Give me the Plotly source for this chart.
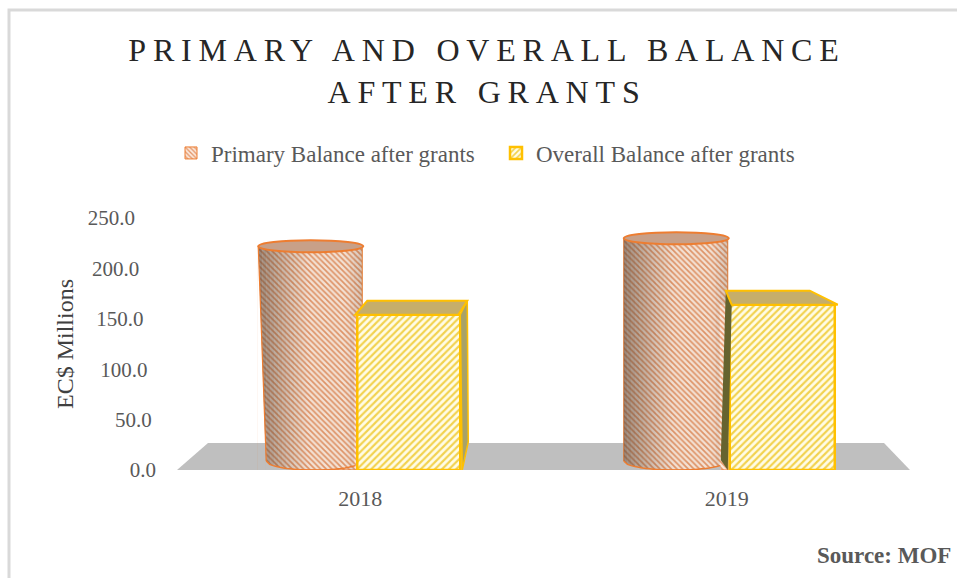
import plotly.graph_objects as go

years = ["2018", "2019"]
primary_balance = [222.0, 230.0]
overall_balance = [154.0, 164.0]
y_ticks = [0, 50, 100, 150, 200, 250]
y_tick_labels = ["0.0", "50.0", "100.0", "150.0", "200.0", "250.0"]

# plot-area scale: one category step and one axis unit in pixels
STEP = 366.5
UNIT = 252 / 250
ORANGE = "#ed7d31"
GOLD = "#ffc000"
FLOOR = "#bfbfbf"
TEXT = "#595959"
FLOOR_DEPTH = 27


def ux(px):
    return px / STEP


def uy(px):
    return px / UNIT


def poly(points):
    return "M " + " L ".join(f"{x:.4f},{y:.3f}" for x, y in points) + " Z"


def solid(points, color, layer="above"):
    return dict(type="path", xref="x", yref="y", layer=layer, line_width=0,
                fillcolor=color, path=poly(points))


fig = go.Figure()

# cylinder bodies: per-bar offset and width in category units
fig.add_trace(go.Bar(
    x=years, y=primary_balance, name="Primary Balance after grants",
    offset=[ux(-102), ux(-103)], width=[ux(104), ux(104)],
    marker=dict(
        color="#fbe3d2", line=dict(color=ORANGE, width=1),
        pattern=dict(shape="\\", fgcolor="#e5976a", bgcolor="#fbe9dc",
                     size=4, solidity=0.42, fillmode="replace"),
    ),
    cliponaxis=False,
))

# front faces of the boxes
fig.add_trace(go.Bar(
    x=years, y=overall_balance, name="Overall Balance after grants",
    offset=[ux(-3), ux(3)], width=[ux(103), ux(105)],
    marker=dict(
        color="#fff6c0", line=dict(color=GOLD, width=2.5),
        pattern=dict(shape="/", fgcolor="#f2d24e", bgcolor="#fffce6",
                     size=5, solidity=0.42, fillmode="replace"),
    ),
    cliponaxis=False,
))

shapes = []

# grey floor under the columns
shapes.append(solid([(-0.5, 0), (-0.5 + ux(31), uy(FLOOR_DEPTH)),
                     (1.5 - ux(26), uy(FLOOR_DEPTH)), (1.5, 0)], FLOOR, layer="below"))

# per-category cylinder geometry, as pixel offsets from the category centre
cyl_left = [-102, -103]
cyl_right = [2, 1]
box_left = [-3, -5]
foot_inset = [8, 0]
for i, (p, b) in enumerate(zip(primary_balance, overall_balance)):
    l, r = cyl_left[i], cyl_right[i]
    n = 26
    w = (r - l) / n
    # horizontal shading across the cylinder
    for k in range(n):
        t = (k + 0.5) / n
        if t < 0.5:
            alpha = 0.55 * (1 - t / 0.5) ** 1.2
        elif t > 0.85:
            alpha = 0.18 * (t - 0.85) / 0.15
        else:
            alpha = 0.0
        alpha += 0.05
        x0 = l + k * w
        x1 = x0 + w
        y0 = b if x1 > box_left[i] else 0
        shapes.append(solid([(i + ux(x0), y0), (i + ux(x0), p),
                             (i + ux(x1), p), (i + ux(x1), y0)],
                            f"rgba(90,70,55,{alpha:.3f})"))

    # the column narrows slightly towards its foot
    inset = foot_inset[i]
    if inset:
        at_floor = inset * (1 - FLOOR_DEPTH * 1.0 / (p * UNIT))
        shapes.append(solid([(i + ux(l - 1), p), (i + ux(l), p),
                             (i + ux(l + at_floor), uy(FLOOR_DEPTH)),
                             (i + ux(l - 1), uy(FLOOR_DEPTH))], "white"))
        shapes.append(solid([(i + ux(l - 1), uy(FLOOR_DEPTH)),
                             (i + ux(l + at_floor), uy(FLOOR_DEPTH)),
                             (i + ux(l + inset), 0), (i + ux(l - 1), 0)], FLOOR))
        shapes.append(dict(type="path", xref="x", yref="y", layer="above",
                           line=dict(color=ORANGE, width=1.2),
                           path=f"M {i + ux(l):.4f},{p} L {i + ux(l + inset):.4f},{uy(9):.3f}"))

    # rounded foot of the cylinder: floor-coloured corner plus orange rim
    foot_l = l + inset
    c = (foot_l + r) / 2
    a = (r - foot_l) / 2
    foot = 9
    arc = []
    for k in range(0, 15):
        s = -1 + k / 14
        arc.append((i + ux(c + a * s), uy(foot * (1 - (1 - s * s) ** 0.5))))
    shapes.append(solid([(i + ux(foot_l - 1), 0), (i + ux(foot_l - 1), uy(foot))]
                        + arc + [(i + ux(c), 0)], FLOOR))
    stop = min(r, box_left[i] - 1)
    right = []
    for k in range(0, 15):
        s = k / 14
        xp = c + a * s
        if xp <= stop:
            right.append((i + ux(xp), uy(foot * (1 - (1 - s * s) ** 0.5))))
    rim = arc + right
    if i == 1:
        shapes.append(solid([(i + ux(c), 0)] + right + [(i + ux(stop), 0)], FLOOR))
    shapes.append(dict(
        type="path", xref="x", yref="y", layer="above",
        line=dict(color=ORANGE, width=1.5),
        path="M " + " L ".join(f"{x:.4f},{y:.3f}" for x, y in rim),
    ))

    # elliptical lid of the cylinder
    shapes.append(dict(
        type="circle", xref="x", yref="y", layer="above",
        x0=i + ux(l), x1=i + ux(r + 1), y0=p - uy(6), y1=p + uy(6),
        fillcolor="#c8a088", line=dict(color=ORANGE, width=2),
    ))

# box top and side faces
b0, b1 = overall_balance
shapes += [
    dict(type="path", xref="x", yref="y", layer="above", fillcolor="#a8a268",
         line=dict(color=GOLD, width=1.5),
         path=poly([(ux(100), b0), (ux(107), b0 + uy(14)), (ux(108), uy(28)), (ux(102), 0)])),
    dict(type="path", xref="x", yref="y", layer="above", fillcolor="#c6ae6a",
         line=dict(color=GOLD, width=2),
         path=poly([(ux(-5), b0), (ux(7), b0 + uy(14)), (ux(107), b0 + uy(14)), (ux(98), b0)])),
    solid([(1 + ux(-1), b1 + uy(14)), (1 + ux(5), b1), (1 + ux(1), 0), (1 + ux(-6), uy(10))],
          "#66632f"),
    dict(type="path", xref="x", yref="y", layer="above", fillcolor="#c6ae6a",
         line=dict(color=GOLD, width=2),
         path=poly([(1 + ux(-1), b1 + uy(14)), (1 + ux(5), b1), (1 + ux(111), b1), (1 + ux(83), b1 + uy(14))])),
]

# thin page frame along the top and left edges
shapes.append(dict(
    type="path", xref="paper", yref="paper", layer="below",
    line=dict(color="#d9d9d9", width=3),
    path=f"M {(9 - 177) / 733:.4f},{(470 - 580) / 252:.4f} "
         f"L {(9 - 177) / 733:.4f},{(470 - 10) / 252:.4f} "
         f"L {(957 - 177) / 733:.4f},{(470 - 10) / 252:.4f}",
))

# tick labels step inward towards the floor, so each carries its own padding
thin = "\u2009"
tick_text = [lab + thin * i for i, lab in enumerate(y_tick_labels)]

fig.update_layout(
    width=957, height=578,
    autosize=False,
    margin=dict(l=177, r=47, t=218, b=108),
    paper_bgcolor="white", plot_bgcolor="rgba(0,0,0,0)",
    barmode="overlay",
    font=dict(family="Liberation Serif", color=TEXT),
    title=dict(
        text="PRIMARY AND OVERALL BALANCE<br>AFTER GRANTS",
        x=487 / 957, xanchor="center", y=1 - 61 / 578, yanchor="middle",
        font=dict(size=32, color="#262626", family="Liberation Serif"),
    ),
    legend=dict(
        orientation="h", x=(171 - 177) / 733, xanchor="left",
        y=(470 - 153) / 252, yanchor="middle",
        font=dict(size=23, color=TEXT), entrywidth=280, entrywidthmode="pixels",
        bgcolor="rgba(0,0,0,0)",
    ),
    xaxis=dict(
        type="category", range=[-0.5, 1.5], showgrid=False, zeroline=False,
        showline=False, ticks="", tickfont=dict(size=22, color=TEXT),
        ticklabelstandoff=13, fixedrange=True,
    ),
    yaxis=dict(
        range=[0, 250], tickvals=y_ticks, ticktext=tick_text, showgrid=False,
        zeroline=False, showline=False, ticks="",
        tickfont=dict(size=21, color=TEXT), ticklabelstandoff=20,
        title=dict(text="EC$ Millions", font=dict(size=24, color="#404040"), standoff=7),
        automargin=False, fixedrange=True,
    ),
    shapes=shapes,
    annotations=[dict(
        text="<b>Source: MOF</b>", xref="paper", yref="paper",
        x=(953 - 177) / 733, xanchor="right", y=(470 - 555) / 252, yanchor="middle",
        showarrow=False, font=dict(size=23, color=TEXT),
    )],
)

# wide tracking on the two-line heading
tracking = """
document.querySelectorAll('.gtitle').forEach(function (el) {
    el.style.letterSpacing = '6.8px';
});
"""
fig.write_html("out.html", post_script=tracking, config=dict(displayModeBar=False))
